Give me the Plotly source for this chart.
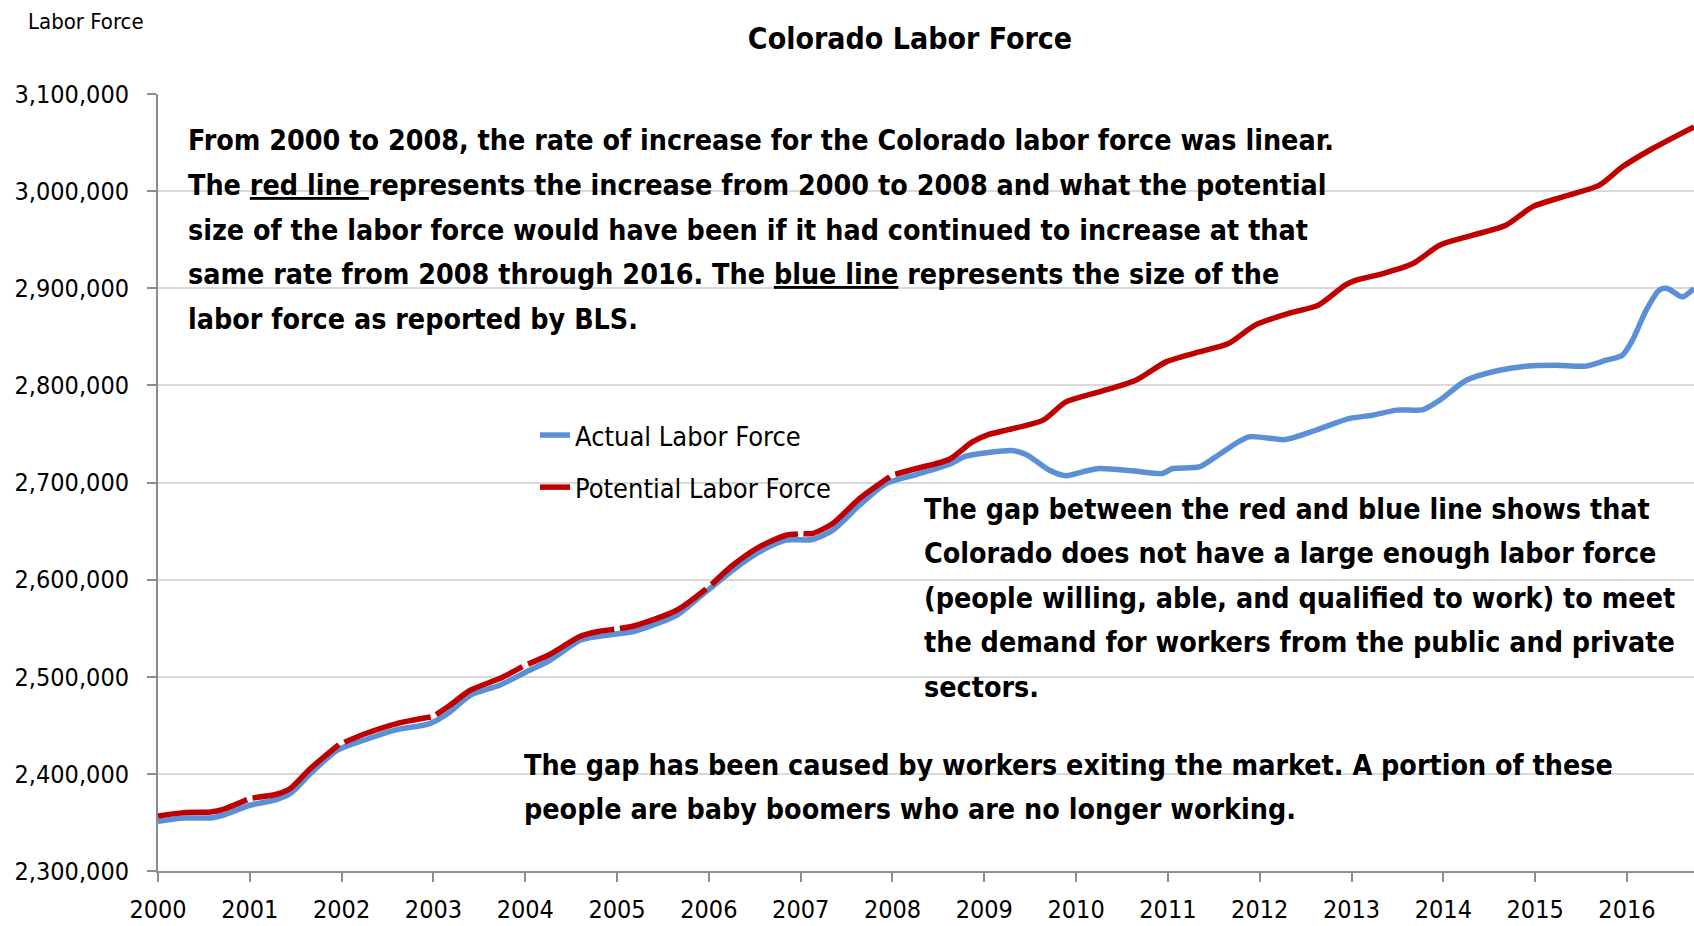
import plotly.graph_objects as go

# ---------------- data ----------------
years_actual = [2000.0, 2000.28, 2000.57, 2000.71, 2001.0, 2001.29, 2001.44, 2001.66, 2001.95,
                2002.24, 2002.6, 2002.96, 2003.18, 2003.4, 2003.72, 2004.01, 2004.27, 2004.6,
                2004.81, 2005.07, 2005.17, 2005.65, 2005.9, 2006.26, 2006.55, 2006.84, 2007.13,
                2007.35, 2007.64, 2007.93, 2008.26, 2008.62, 2008.8, 2009.05, 2009.3, 2009.45,
                2009.6, 2009.71, 2009.89, 2010.07, 2010.25, 2010.62, 2010.94, 2011.05, 2011.34,
                2011.52, 2011.88, 2012.28, 2012.61, 2012.97, 2013.23, 2013.49, 2013.78, 2013.96,
                2014.25, 2014.61, 2014.9, 2015.23, 2015.55, 2015.77, 2015.95, 2016.06, 2016.21,
                2016.35, 2016.44, 2016.6, 2016.73]
actual_labor_force = [2351200, 2354600, 2354600, 2357400, 2367700, 2373500, 2379700, 2400300, 2424300,
                      2434600, 2445600, 2451800, 2463800, 2480900, 2491200, 2504900, 2517000, 2537600,
                      2541700, 2545100, 2546300, 2563300, 2582200, 2609700, 2628500, 2640600, 2641300,
                      2650900, 2676600, 2698900, 2708200, 2718800, 2727100, 2731000, 2733000, 2729000,
                      2719600, 2712700, 2707000, 2710900, 2714400, 2712000, 2709300, 2714400, 2716000,
                      2726300, 2746900, 2744200, 2753800, 2765800, 2769300, 2774500, 2775000, 2784700,
                      2805300, 2815600, 2819800, 2820800, 2819800, 2825900, 2831100, 2846600, 2877500,
                      2898000, 2899800, 2891200, 2899800]

# potential series: None marks the small breaks at each January 2001-2008
years_potential = [2000.0, 2000.28, 2000.57, 2000.71, 2000.97, 2001.0,
                   2001.03, 2001.29, 2001.44, 2001.66, 2001.97, 2002.0,
                   2002.03, 2002.24, 2002.6, 2002.97, 2003.0,
                   2003.03, 2003.18, 2003.4, 2003.72, 2003.97, 2004.0,
                   2004.03, 2004.27, 2004.6, 2004.81, 2004.97, 2005.0,
                   2005.03, 2005.17, 2005.65, 2005.97, 2006.0,
                   2006.03, 2006.26, 2006.55, 2006.84, 2006.97, 2007.0,
                   2007.03, 2007.13, 2007.35, 2007.64, 2007.97, 2008.0,
                   2008.03, 2008.26, 2008.62, 2008.87, 2009.05, 2009.2, 2009.64, 2009.89,
                   2010.25, 2010.65, 2010.98, 2011.34, 2011.66, 2011.95, 2012.31, 2012.64,
                   2012.93, 2013.05, 2013.34, 2013.67, 2013.96, 2014.32, 2014.68, 2014.97,
                   2015.3, 2015.7, 2015.95, 2016.28, 2016.73]
potential_labor_force = [2356600, 2360100, 2360800, 2363500, 2373500, None,
                         2375200, 2379000, 2384900, 2405500, 2430000, None,
                         2432500, 2440800, 2451800, 2458500, None,
                         2461000, 2470600, 2486100, 2498100, 2510500, None,
                         2513000, 2523200, 2541700, 2546900, 2549000, None,
                         2549800, 2552000, 2568500, 2590500, None,
                         2595000, 2614800, 2633700, 2645700, 2647000, None,
                         2647300, 2647500, 2657800, 2683500, 2706000, None,
                         2708500, 2714400, 2724000, 2741800, 2749500, 2753000, 2764200, 2783000,
                         2793300, 2805300, 2824200, 2834500, 2843200, 2862000, 2874000, 2882600,
                         2903200, 2908300, 2915100, 2925500, 2944300, 2954600, 2964900, 2983800,
                         2994100, 3006100, 3025000, 3043900, 3066200]

tick_years = list(range(2000, 2017))
tick_year_labels = [str(y) for y in tick_years]
y_ticks = [2300000, 2400000, 2500000, 2600000, 2700000, 2800000, 2900000, 3000000, 3100000]

series_names = ["Actual Labor Force", "Potential Labor Force"]
chart_title = "Colorado Labor Force"
y_axis_label = "Labor Force"

note_top = [
    "From 2000 to 2008, the rate of increase for the Colorado labor force was linear.",
    "The <span style='text-decoration:underline'>red line </span>represents the increase from 2000 to 2008 and what the potential",
    "size of the labor force would have been if it had continued to increase at that",
    "same rate from 2008 through 2016. The <span style='text-decoration:underline'>blue line</span> represents the size of the",
    "labor force as reported by BLS.",
]
note_gap = [
    "The gap between the red and blue line shows that",
    "Colorado does not have a large enough labor force",
    "(people willing, able, and qualified to work) to meet",
    "the demand for workers from the public and private",
    "sectors.",
]
note_cause = [
    "The gap has been caused by workers exiting the market. A portion of these",
    "people are baby boomers who are no longer working.",
]

# ---------------- styling ----------------
W, H = 1694, 926
L, R, T, B = 158, 0, 94, 55
PW, PH = W - L - R, H - T - B
NARROW = "Liberation Sans Narrow, Arial Narrow, DejaVu Sans Condensed, sans-serif"
BLUE = "#5b8fd6"
RED = "#c00000"
AXIS = "#8c8c8c"

fig = go.Figure()
fig.add_trace(go.Scatter(x=years_actual, y=actual_labor_force, name=series_names[0],
                         mode="lines", line=dict(color=BLUE, width=5.5, shape="spline", smoothing=0.7),
                         legendgroup="a"))
fig.add_trace(go.Scatter(x=years_potential, y=potential_labor_force, name=series_names[1],
                         mode="lines", connectgaps=False,
                         line=dict(color=RED, width=5.5, shape="spline", smoothing=0.7),
                         legendgroup="p"))


def px_to_paper(xp, yp):
    return (xp - L) / PW, (H - B - yp) / PH


def add_block(lines, left_px, first_center_px, step_px, size, bold=True):
    for i, t in enumerate(lines):
        x, y = px_to_paper(left_px, first_center_px + i * step_px)
        fig.add_annotation(text=("<b>%s</b>" % t) if bold else t, xref="paper", yref="paper",
                           x=x, y=y, xanchor="left", yanchor="middle", showarrow=False,
                           align="left", font=dict(family=NARROW, size=size, color="#000000"))


add_block(note_top, 186, 140.5, 44.8, 28.4)
add_block(note_gap, 922, 509, 44.6, 28.4)
add_block(note_cause, 522, 765, 44.6, 28.4)

lx, ly = px_to_paper(26, 22)
fig.add_annotation(text=y_axis_label, xref="paper", yref="paper", x=lx, y=ly,
                   xanchor="left", yanchor="middle", showarrow=False,
                   font=dict(family=NARROW, size=22, color="#000000"))

legx, legy = px_to_paper(535, 411)

fig.update_layout(
    width=W, height=H,
    margin=dict(l=L, r=R, t=T, b=B, autoexpand=False),
    paper_bgcolor="white", plot_bgcolor="white",
    title=dict(text="<b>%s</b>" % chart_title, x=910 / W, xref="container", xanchor="center",
               y=1 - 38 / H, yref="container", yanchor="middle",
               font=dict(family=NARROW, size=30, color="#000000")),
    showlegend=True,
    legend=dict(x=legx, y=legy, xanchor="left", yanchor="top", bgcolor="rgba(0,0,0,0)",
                font=dict(family=NARROW, size=27, color="#000000"), tracegroupgap=14,
                itemwidth=30),
    xaxis=dict(range=[2000, 2016.73], tickvals=tick_years, ticktext=tick_year_labels,
               showgrid=False, zeroline=False, showline=True, linecolor=AXIS, linewidth=2,
               ticks="outside", ticklen=9, tickwidth=2, tickcolor=AXIS, ticklabelstandoff=6,
               automargin=False,
               tickfont=dict(family=NARROW, size=25, color="#000000")),
    yaxis=dict(range=[2300000, 3100000], tickvals=y_ticks, tickformat=",d",
               showgrid=True, gridcolor="#d9d9d9", gridwidth=2, zeroline=False,
               showline=True, linecolor=AXIS, linewidth=2, automargin=False,
               ticks="outside", ticklen=9, tickwidth=2, tickcolor=AXIS, ticklabelstandoff=13,
               tickfont=dict(family=NARROW, size=25, color="#000000")),
)

fig.write_html("out.html", include_plotlyjs=True, config={"displayModeBar": False},
               post_script="document.body.style.margin='0';document.body.style.overflow='hidden';")
